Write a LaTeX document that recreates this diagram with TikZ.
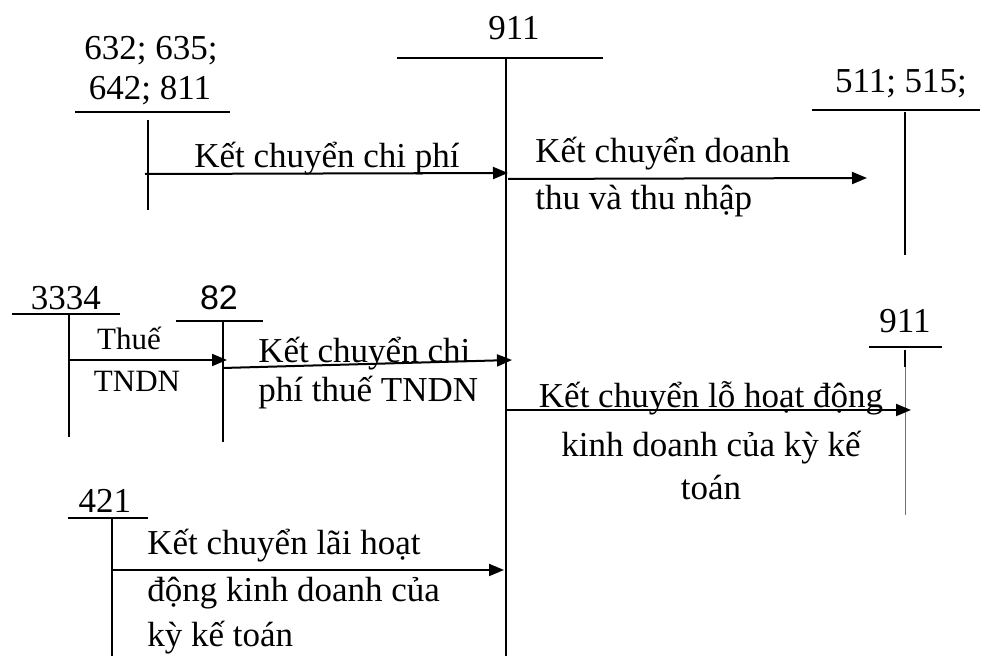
\documentclass[tikz,border=0pt]{standalone}
\usepackage{fontspec}
\setmainfont{Liberation Serif}
\newfontfamily\arialfont{Liberation Sans}
\usetikzlibrary{arrows.meta}
\begin{document}
\begin{tikzpicture}[x=0.5pt,y=-0.5pt,
  acct/.style={line width=1pt},
  flow/.style={line width=1pt,-{Triangle[length=7.5pt,width=6pt]}},
  lbl/.style={inner sep=0pt,anchor=base,font=\fontsize{17.5}{21}\selectfont},
  lbll/.style={inner sep=0pt,anchor=base west,font=\fontsize{17.5}{21}\selectfont}]
\useasboundingbox (0,0) rectangle (982,656);
% ---- main 911 account
\node[lbl] (t911) at (514,40) {911};
\coordinate (m911l) at (397,58);
\coordinate (m911r) at (603,58);
\coordinate (m911t) at (506,58);
\coordinate (m911b) at (506,656);
\draw[acct] (m911l) -- (m911r);
\draw[acct] (m911t) -- (m911b);
% ---- 632;635;642;811
\node[lbl] (t632a) at (151,60) {632; 635;};
\node[lbl] (t632b) at (150,100) {642; 811};
\coordinate (a632l) at (75,112);
\coordinate (a632r) at (230,112);
\coordinate (a632t) at (148,120);
\coordinate (a632b) at (148,210);
\draw[acct] (a632l) -- (a632r);
\draw[acct] (a632t) -- (a632b);
\coordinate (f1s) at (145,174);
\coordinate (f1e) at (508,173);
\draw[flow] (f1s) -- (f1e);
\node[lbl] (l1) at (327,168) {Kết chuyển chi phí};
% ---- 511;515
\node[lbl] (t511) at (901,93) {511; 515;};
\coordinate (a511l) at (812,110);
\coordinate (a511r) at (980,110);
\coordinate (a511t) at (905,112);
\coordinate (a511b) at (905,255);
\draw[acct] (a511l) -- (a511r);
\draw[acct] (a511t) -- (a511b);
\coordinate (f2s) at (508,179);
\coordinate (f2e) at (867,178);
\draw[flow] (f2s) -- (f2e);
\node[lbll] (l2a) at (535,163) {Kết chuyển doanh};
\node[lbll] (l2b) at (535,210) {thu và thu nhập};
% ---- 3334
\node[lbl] (t3334) at (66,310) {3334};
\coordinate (a3334l) at (12,314);
\coordinate (a3334r) at (120,314);
\coordinate (a3334t) at (69,314);
\coordinate (a3334b) at (69,437);
\draw[acct] (a3334l) -- (a3334r);
\draw[acct] (a3334t) -- (a3334b);
\node[lbl,font=\fontsize{15.5}{19}\selectfont] (l3a) at (129,350) {Thuế};
\node[lbl,font=\fontsize{15.5}{19}\selectfont] (l3b) at (137,392) {TNDN};
% ---- 82
\node[lbl,font=\arialfont\fontsize{17}{20}\selectfont] (t82) at (219,310) {82};
\coordinate (a82l) at (176,321);
\coordinate (a82r) at (263,321);
\coordinate (a82t) at (223,321);
\coordinate (a82b) at (223,442);
\draw[acct] (a82l) -- (a82r);
\draw[acct] (a82t) -- (a82b);
\coordinate (f3s) at (69,360);
\coordinate (f3e) at (227,360);
\draw[flow] (f3s) -- (f3e);
\coordinate (f4s) at (223,368);
\coordinate (f4e) at (512,360);
\draw[flow] (f4s) -- (f4e);
\node[lbll] (l4a) at (258,363) {Kết chuyển chi};
\node[lbll] (l4b) at (258,402) {phí thuế TNDN};
% ---- 911 right
\node[lbl] (t911b) at (905,333) {911};
\coordinate (b911l) at (869,347);
\coordinate (b911r) at (942,347);
\coordinate (b911t) at (905,350);
\coordinate (b911m) at (905,367);
\coordinate (b911b) at (905,515);
\draw[acct] (b911l) -- (b911r);
\draw[line width=0.4pt,black!55] (b911t) -- (b911b);
\draw[acct] (b911t) -- (b911m);
\coordinate (f5s) at (506,410);
\coordinate (f5e) at (911,410);
\draw[flow] (f5s) -- (f5e);
\node[lbl] (l5a) at (711,408) {Kết chuyển lỗ hoạt động};
\node[lbl] (l5b) at (711,457) {kinh doanh của kỳ kế};
\node[lbl] (l5c) at (711,500) {toán};
% ---- 421
\node[lbl] (t421) at (105,513) {421};
\coordinate (a421l) at (68,518);
\coordinate (a421r) at (148,518);
\coordinate (a421t) at (112,518);
\coordinate (a421b) at (112,656);
\draw[acct] (a421l) -- (a421r);
\draw[acct] (a421t) -- (a421b);
\coordinate (f6s) at (112,570);
\coordinate (f6e) at (504,570);
\draw[flow] (f6s) -- (f6e);
\node[lbll] (l6a) at (147,555) {Kết chuyển lãi hoạt};
\node[lbll] (l6b) at (147,602) {động kinh doanh của};
\node[lbll] (l6c) at (147,647) {kỳ kế toán};
\end{tikzpicture}
\end{document}
